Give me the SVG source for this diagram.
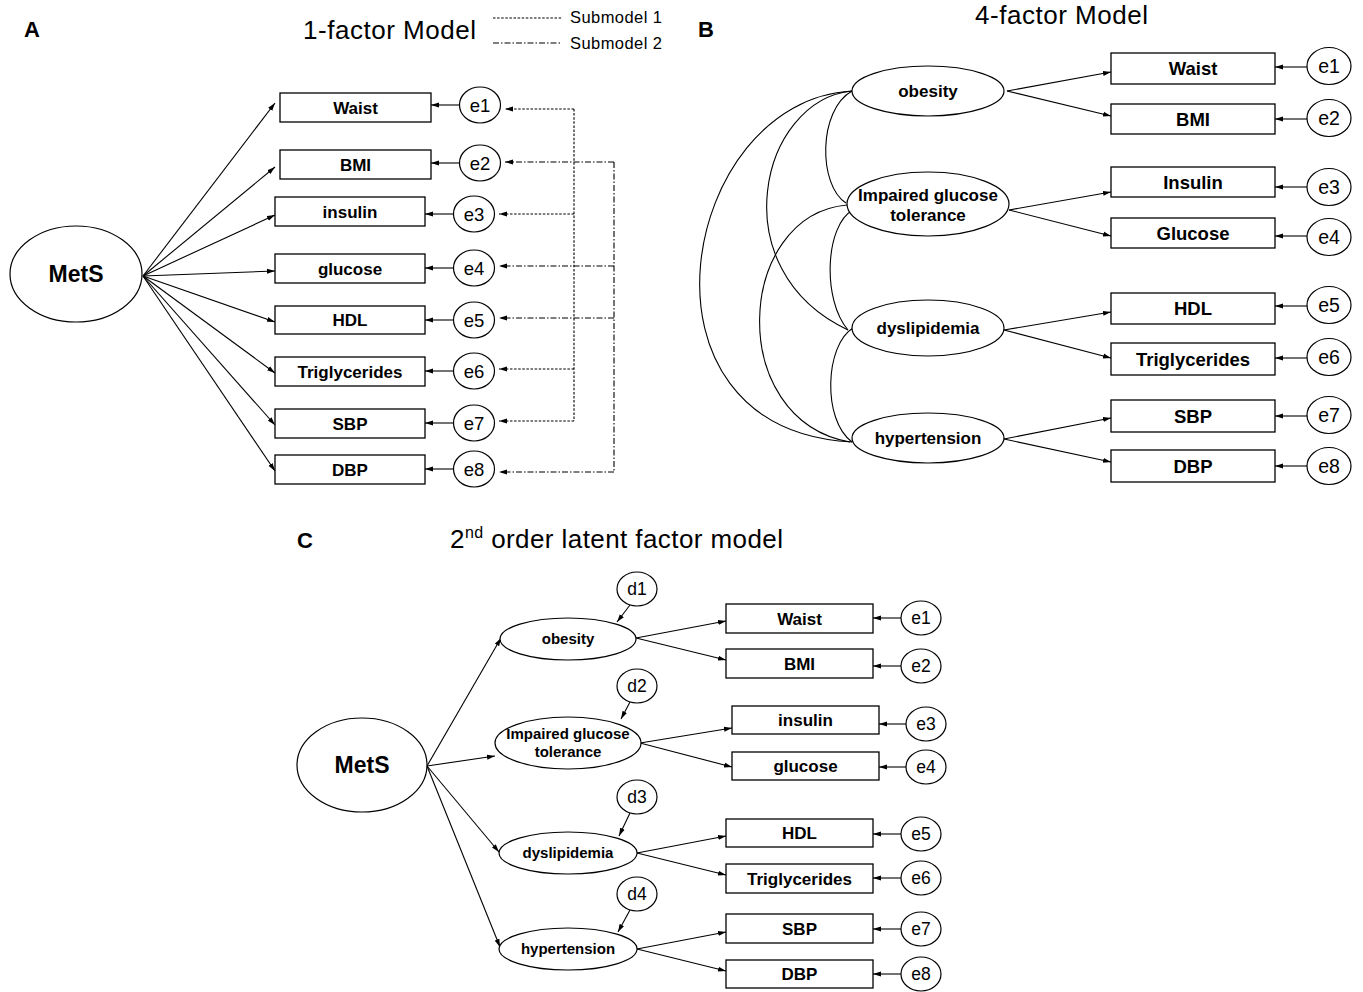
<svg xmlns="http://www.w3.org/2000/svg" width="1363" height="992" viewBox="0 0 1363 992">
<defs>
<marker id="ah" markerWidth="8" markerHeight="6" refX="8" refY="3" orient="auto" markerUnits="userSpaceOnUse"><path d="M0,0.5 L8,3 L0,5.5 z" fill="#000"/></marker>
<style>
text{font-family:"Liberation Sans",Arial,sans-serif;fill:#000}
.box{fill:#fff;stroke:#000;stroke-width:1.3}
.lat{fill:#fff;stroke:#000;stroke-width:1.2}
.ln{fill:none;stroke:#000;stroke-width:1.1}
.arr{marker-end:url(#ah)}
.dot{stroke-dasharray:2.5,1.6}
.dd{stroke-dasharray:6,2,1.5,2}
.pl{font-weight:bold;font-size:22px}
.ti{font-size:26px}
.lg{font-size:16.5px}
.bA{font-weight:bold;font-size:17px;text-anchor:middle}
.bB{font-weight:bold;font-size:18.5px;text-anchor:middle}
.bC{font-weight:bold;font-size:17px;text-anchor:middle}
.fB{font-weight:bold;font-size:17px;text-anchor:middle}
.fC{font-weight:bold;font-size:15px;text-anchor:middle}
.eA{font-size:18.5px;text-anchor:middle}
.eB{font-size:19.5px;text-anchor:middle}
.eC{font-size:17.5px;text-anchor:middle}
.mets{font-weight:bold;font-size:23px;text-anchor:middle}
</style>
</defs>
<rect width="1363" height="992" fill="#fff"/>

<g id="titles">
<text class="pl" x="24" y="37">A</text>
<text class="ti" x="303" y="39" textLength="173">1-factor Model</text>
<text class="pl" x="698" y="37">B</text>
<text class="ti" x="975" y="24" textLength="173">4-factor Model</text>
<text class="pl" x="297" y="548">C</text>
<text class="ti" x="450" y="548" textLength="333">2<tspan font-size="16" dy="-10">nd</tspan><tspan dy="10"> order latent factor model</tspan></text>
</g>
<g id="legend">
<path class="ln dot" d="M493,18 H562"/>
<text class="lg" x="570" y="23" textLength="92">Submodel 1</text>
<path class="ln dd" d="M493,43 H562"/>
<text class="lg" x="570" y="49" textLength="92">Submodel 2</text>
</g>

<g id="connectors">
<g class="ln arr">
<path d="M143,276 L275,103"/>
<path d="M143,276 L275,167"/>
<path d="M143,276 L275,215"/>
<path d="M143,276 L275,271"/>
<path d="M143,276 L275,322"/>
<path d="M143,276 L275,373"/>
<path d="M143,276 L275,425"/>
<path d="M143,276 L275,471"/>
<path d="M459.5,105 H431"/>
<path d="M459.5,163 H431"/>
<path d="M453.5,214 H425"/>
<path d="M453.5,268 H425"/>
<path d="M453.5,320 H425"/>
<path d="M453.5,371 H425"/>
<path d="M453.5,423 H425"/>
<path d="M453.5,469 H425"/>
</g>
<path class="ln dot" d="M574,109 V421"/>
<g class="ln dot arr">
<path d="M574,109 H505"/>
<path d="M574,214 H499"/>
<path d="M574,369 H499"/>
<path d="M574,421 H499"/>
</g>
<path class="ln dd" d="M614,162 V472"/>
<g class="ln dd arr">
<path d="M614,162 H505"/>
<path d="M614,266 H499"/>
<path d="M614,318 H499"/>
<path d="M614,472 H499"/>
</g>
<g class="ln arr">
<path d="M1007,91 L1111,72"/>
<path d="M1007,91 L1111,116"/>
<path d="M1009,210 L1111,192"/>
<path d="M1009,210 L1111,236"/>
<path d="M1004,330 L1111,312"/>
<path d="M1004,330 L1111,358"/>
<path d="M1004,439 L1111,418"/>
<path d="M1004,439 L1111,462"/>
<path d="M1307,67 H1275"/>
<path d="M1307,119 H1275"/>
<path d="M1307,187 H1275"/>
<path d="M1307,236 H1275"/>
<path d="M1307,306 H1275"/>
<path d="M1307,358 H1275"/>
<path d="M1307,416 H1275"/>
<path d="M1307,466 H1275"/>
</g>
<g class="ln">
<path d="M852,91 C818,110 818,185 846,203"/>
<path d="M852,91 C760,100 720,270 848,330"/>
<path d="M852,91 C680,100 620,430 852,442"/>
<path d="M853,210 C825,225 822,300 848,330"/>
<path d="M847,205 C735,215 725,420 850,442"/>
<path d="M853,328 C825,345 822,420 852,442"/>
</g>
<g class="ln arr">
<path d="M427,766 L501,638"/>
<path d="M427,766 L495,756"/>
<path d="M427,766 L499,852"/>
<path d="M427,766 L500,947"/>
<path d="M630,605 L617,622"/>
<path d="M630,702 L621,719"/>
<path d="M630,813 L619,836"/>
<path d="M630,910 L618,932"/>
<path d="M636,638 L726,621"/>
<path d="M636,638 L726,660"/>
<path d="M640,743 L732,728"/>
<path d="M640,743 L732,767"/>
<path d="M637,853 L726,836"/>
<path d="M637,853 L726,875"/>
<path d="M637,949 L726,932"/>
<path d="M637,949 L726,971"/>
<path d="M901,618 H873"/>
<path d="M901,666 H873"/>
<path d="M906,724 H879"/>
<path d="M906,767 H879"/>
<path d="M901,834 H873"/>
<path d="M901,878 H873"/>
<path d="M901,929 H873"/>
<path d="M901,974 H873"/>
</g>
</g>

<g id="A-MetS"><ellipse class="lat" cx="76" cy="274" rx="66" ry="48"/><text class="mets" x="76" y="282">MetS</text></g>
<g id="A-Waist"><rect class="box" x="280" y="93" width="151" height="29"/><text class="bA" x="355.5" y="113.5">Waist</text></g>
<g id="A-BMI"><rect class="box" x="280" y="150" width="151" height="29"/><text class="bA" x="355.5" y="170.5">BMI</text></g>
<g id="A-insulin"><rect class="box" x="275" y="197" width="150" height="29"/><text class="bA" x="350" y="217.5">insulin</text></g>
<g id="A-glucose"><rect class="box" x="275" y="254" width="150" height="29"/><text class="bA" x="350" y="274.5">glucose</text></g>
<g id="A-HDL"><rect class="box" x="275" y="306" width="150" height="28"/><text class="bA" x="350" y="326">HDL</text></g>
<g id="A-Trig"><rect class="box" x="275" y="357" width="150" height="29"/><text class="bA" x="350" y="377.5">Triglycerides</text></g>
<g id="A-SBP"><rect class="box" x="275" y="409" width="150" height="29"/><text class="bA" x="350" y="429.5">SBP</text></g>
<g id="A-DBP"><rect class="box" x="275" y="455" width="150" height="29"/><text class="bA" x="350" y="475.5">DBP</text></g>
<g id="A-e1"><ellipse class="lat" cx="480" cy="105" rx="20.5" ry="18"/><text class="eA" x="480" y="111.5">e1</text></g>
<g id="A-e2"><ellipse class="lat" cx="480" cy="163" rx="20.5" ry="18"/><text class="eA" x="480" y="169.5">e2</text></g>
<g id="A-e3"><ellipse class="lat" cx="474" cy="214" rx="20.5" ry="18"/><text class="eA" x="474" y="220.5">e3</text></g>
<g id="A-e4"><ellipse class="lat" cx="474" cy="268" rx="20.5" ry="18"/><text class="eA" x="474" y="274.5">e4</text></g>
<g id="A-e5"><ellipse class="lat" cx="474" cy="320" rx="20.5" ry="18"/><text class="eA" x="474" y="326.5">e5</text></g>
<g id="A-e6"><ellipse class="lat" cx="474" cy="371" rx="20.5" ry="18"/><text class="eA" x="474" y="377.5">e6</text></g>
<g id="A-e7"><ellipse class="lat" cx="474" cy="423" rx="20.5" ry="18"/><text class="eA" x="474" y="429.5">e7</text></g>
<g id="A-e8"><ellipse class="lat" cx="474" cy="469" rx="20.5" ry="18"/><text class="eA" x="474" y="475.5">e8</text></g>

<g id="B-obesity"><ellipse class="lat" cx="928" cy="91" rx="76" ry="25"/><text class="fB" x="928" y="97">obesity</text></g>
<g id="B-igt"><ellipse class="lat" cx="928" cy="204" rx="81" ry="32"/><text class="fB" x="928" y="201">Impaired glucose</text><text class="fB" x="928" y="221">tolerance</text></g>
<g id="B-dys"><ellipse class="lat" cx="928" cy="328" rx="76" ry="28"/><text class="fB" x="928" y="334">dyslipidemia</text></g>
<g id="B-hyp"><ellipse class="lat" cx="928" cy="438" rx="76" ry="25"/><text class="fB" x="928" y="444">hypertension</text></g>
<g id="B-Waist"><rect class="box" x="1111" y="53" width="164" height="31"/><text class="bB" x="1193" y="75">Waist</text></g>
<g id="B-BMI"><rect class="box" x="1111" y="104" width="164" height="30"/><text class="bB" x="1193" y="125.5">BMI</text></g>
<g id="B-Insulin"><rect class="box" x="1111" y="167" width="164" height="30"/><text class="bB" x="1193" y="188.5">Insulin</text></g>
<g id="B-Glucose"><rect class="box" x="1111" y="218" width="164" height="30"/><text class="bB" x="1193" y="239.5">Glucose</text></g>
<g id="B-HDL"><rect class="box" x="1111" y="293" width="164" height="31"/><text class="bB" x="1193" y="315">HDL</text></g>
<g id="B-Trig"><rect class="box" x="1111" y="343" width="164" height="32"/><text class="bB" x="1193" y="365.5">Triglycerides</text></g>
<g id="B-SBP"><rect class="box" x="1111" y="400" width="164" height="32"/><text class="bB" x="1193" y="422.5">SBP</text></g>
<g id="B-DBP"><rect class="box" x="1111" y="450" width="164" height="32"/><text class="bB" x="1193" y="472.5">DBP</text></g>
<g id="B-e1"><ellipse class="lat" cx="1329" cy="66" rx="22" ry="18.5"/><text class="eB" x="1329" y="73">e1</text></g>
<g id="B-e2"><ellipse class="lat" cx="1329" cy="118" rx="22" ry="18.5"/><text class="eB" x="1329" y="125">e2</text></g>
<g id="B-e3"><ellipse class="lat" cx="1329" cy="187" rx="22" ry="18.5"/><text class="eB" x="1329" y="194">e3</text></g>
<g id="B-e4"><ellipse class="lat" cx="1329" cy="237" rx="22" ry="18.5"/><text class="eB" x="1329" y="244">e4</text></g>
<g id="B-e5"><ellipse class="lat" cx="1329" cy="305" rx="22" ry="18.5"/><text class="eB" x="1329" y="312">e5</text></g>
<g id="B-e6"><ellipse class="lat" cx="1329" cy="357" rx="22" ry="18.5"/><text class="eB" x="1329" y="364">e6</text></g>
<g id="B-e7"><ellipse class="lat" cx="1329" cy="415" rx="22" ry="18.5"/><text class="eB" x="1329" y="422">e7</text></g>
<g id="B-e8"><ellipse class="lat" cx="1329" cy="466" rx="22" ry="18.5"/><text class="eB" x="1329" y="473">e8</text></g>

<g id="C-MetS"><ellipse class="lat" cx="362" cy="765" rx="65" ry="47"/><text class="mets" x="362" y="773">MetS</text></g>
<g id="C-d1"><ellipse class="lat" cx="637" cy="589" rx="20" ry="17"/><text class="eC" x="637" y="595">d1</text></g>
<g id="C-d2"><ellipse class="lat" cx="637" cy="686" rx="20" ry="17"/><text class="eC" x="637" y="692">d2</text></g>
<g id="C-d3"><ellipse class="lat" cx="637" cy="797" rx="20" ry="17"/><text class="eC" x="637" y="803">d3</text></g>
<g id="C-d4"><ellipse class="lat" cx="637" cy="894" rx="20" ry="17"/><text class="eC" x="637" y="900">d4</text></g>
<g id="C-obesity"><ellipse class="lat" cx="568" cy="639" rx="68" ry="21"/><text class="fC" x="568" y="644">obesity</text></g>
<g id="C-igt"><ellipse class="lat" cx="568" cy="743" rx="73" ry="26"/><text class="fC" x="568" y="739">Impaired glucose</text><text class="fC" x="568" y="757">tolerance</text></g>
<g id="C-dys"><ellipse class="lat" cx="568" cy="853" rx="69" ry="21"/><text class="fC" x="568" y="858">dyslipidemia</text></g>
<g id="C-hyp"><ellipse class="lat" cx="568" cy="949" rx="69" ry="21"/><text class="fC" x="568" y="954">hypertension</text></g>
<g id="C-Waist"><rect class="box" x="726" y="604" width="147" height="29"/><text class="bC" x="799.5" y="624.5">Waist</text></g>
<g id="C-BMI"><rect class="box" x="726" y="649" width="147" height="29"/><text class="bC" x="799.5" y="669.5">BMI</text></g>
<g id="C-insulin"><rect class="box" x="732" y="706" width="147" height="28"/><text class="bC" x="805.5" y="726">insulin</text></g>
<g id="C-glucose"><rect class="box" x="732" y="752" width="147" height="28"/><text class="bC" x="805.5" y="772">glucose</text></g>
<g id="C-HDL"><rect class="box" x="726" y="819" width="147" height="28"/><text class="bC" x="799.5" y="839">HDL</text></g>
<g id="C-Trig"><rect class="box" x="726" y="864" width="147" height="29"/><text class="bC" x="799.5" y="884.5">Triglycerides</text></g>
<g id="C-SBP"><rect class="box" x="726" y="914" width="147" height="29"/><text class="bC" x="799.5" y="934.5">SBP</text></g>
<g id="C-DBP"><rect class="box" x="726" y="960" width="147" height="28"/><text class="bC" x="799.5" y="980">DBP</text></g>
<g id="C-e1"><ellipse class="lat" cx="921" cy="618" rx="20" ry="17"/><text class="eC" x="921" y="624">e1</text></g>
<g id="C-e2"><ellipse class="lat" cx="921" cy="666" rx="20" ry="17"/><text class="eC" x="921" y="672">e2</text></g>
<g id="C-e3"><ellipse class="lat" cx="926" cy="724" rx="20" ry="17"/><text class="eC" x="926" y="730">e3</text></g>
<g id="C-e4"><ellipse class="lat" cx="926" cy="767" rx="20" ry="17"/><text class="eC" x="926" y="773">e4</text></g>
<g id="C-e5"><ellipse class="lat" cx="921" cy="834" rx="20" ry="17"/><text class="eC" x="921" y="840">e5</text></g>
<g id="C-e6"><ellipse class="lat" cx="921" cy="878" rx="20" ry="17"/><text class="eC" x="921" y="884">e6</text></g>
<g id="C-e7"><ellipse class="lat" cx="921" cy="929" rx="20" ry="17"/><text class="eC" x="921" y="935">e7</text></g>
<g id="C-e8"><ellipse class="lat" cx="921" cy="974" rx="20" ry="17"/><text class="eC" x="921" y="980">e8</text></g>
</svg>
